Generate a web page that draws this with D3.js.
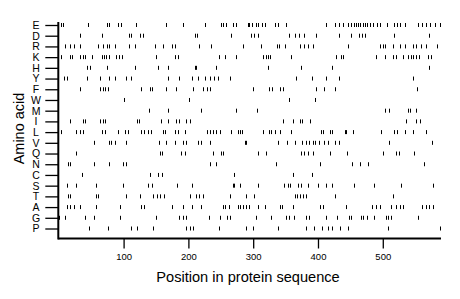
<!DOCTYPE html>
<html>
<head>
<meta charset="utf-8">
<script src="https://cdn.jsdelivr.net/npm/d3@7"></script>
<style>
  body { margin: 0; background: #fff; }
  text { font-family: "Liberation Sans", Arial, sans-serif; fill: #000; }
</style>
</head>
<body>
<script>
const width = 460;
const height = 299;

// amino acids, top to bottom
const acids = ["E","D","R","K","H","Y","F","W","M","I","L","V","Q","N","C","S","T","A","G","P"];
const xTicks = [100, 200, 300, 400, 500];
const seqLength = 590;

// positions of each residue in the sequence
const posE = [3,6,45,74,78,92,96,119,166,192,225,250,254,258,269,273,292,294,298,304,308,313,318,334,339,351,
  412,427,432,438,446,451,455,458,462,465,469,472,475,480,485,491,495,506,517,522,526,535,554,561,566,573,581,588];
const posD = [32,67,108,112,126,130,210,213,266,297,301,307,356,365,371,379,397,432,451,464,468,472,518,572];
const posR = [10,17,23,32,61,68,74,78,86,109,117,148,161,174,179,217,235,284,312,336,340,349,
  373,379,384,392,446,495,500,504,516,526,535,547,552,559,567,583];
const posK = [4,17,21,32,37,40,52,66,69,73,78,89,93,98,150,179,184,247,257,274,315,319,323,326,359,
  428,436,439,490,504,516,521,531,539,543,547,552,556,570,575];
const posH = [43,48,74,118,153,168,210,212,243,323,374,422,571];
const posY = [8,12,43,63,78,86,103,111,168,186,205,215,225,233,240,246,264,366,391,412,433,547];
const posF = [32,63,68,72,76,127,140,144,166,181,207,222,228,233,299,325,329,342,346,397,410,426,553];
const posW = [100,201,355,396];
const posM = [139,168,220,273,306,504,509,539,542,552];
const posI = [17,37,40,63,68,72,120,124,157,168,181,186,197,202,346,361,372,376,387,536,552,558];
const posL = [3,27,32,37,66,71,91,102,107,127,132,138,143,161,164,179,184,194,228,233,238,243,249,266,276,280,283,
  315,324,328,333,342,359,405,408,419,422,441,444,454,497,517,522,535,547,566];
const posV = [54,77,81,86,103,155,165,180,192,197,215,220,234,287,289,338,352,364,
  376,381,386,392,396,401,409,415,427,433,509,576];
const posQ = [27,156,160,189,194,238,251,254,307,320,374,379,385,392,418,445,501,521,525,548];
const posN = [14,18,55,78,99,103,234,243,335,403,453,465,477,563];
const posC = [36,140,153,160,271,361,390];
const posS = [12,27,58,99,138,144,182,206,269,271,280,307,348,353,357,369,374,385,400,413,422,456,487,528,577];
const posT = [14,17,57,60,104,125,145,151,156,163,202,212,217,222,264,289,302,364,368,372,377,382,427,515];
const posA = [12,17,23,32,58,94,127,132,174,192,206,220,253,257,262,277,280,284,289,294,307,318,341,345,361,
  403,408,444,484,490,495,513,521,526,531,561,566,572,577];
const posG = [1,10,40,55,95,150,185,191,196,232,249,259,264,304,328,351,356,363,
  381,386,413,429,448,451,467,469,475,486,505,508,513,554];
const posP = [46,76,111,120,146,197,202,207,247,289,300,338,382,394,406,416,421,434,447,508,588];

const positions = {E: posE, D: posD, R: posR, K: posK, H: posH, Y: posY, F: posF, W: posW, M: posM, I: posI,
  L: posL, V: posV, Q: posQ, N: posN, C: posC, S: posS, T: posT, A: posA, G: posG, P: posP};

const marks = [];
acids.forEach(a => positions[a].forEach(p => marks.push({acid: a, pos: p})));

const svg = d3.select("body").append("svg")
  .attr("width", width)
  .attr("height", height);

const x = d3.scaleLinear().domain([0, seqLength]).range([58.8, 441.1]);
const y = d3.scalePoint().domain(acids).range([25, 228.5]);

const plotLeft = 58.3, plotBottom = 238.5, plotTop = 22;

// residue marks
svg.append("g")
  .selectAll("line")
  .data(marks)
  .join("line")
  .attr("x1", d => Math.round(x(d.pos)) + 0.5)
  .attr("x2", d => Math.round(x(d.pos)) + 0.5)
  .attr("y1", d => y(d.acid) - 2)
  .attr("y2", d => y(d.acid) + 2)
  .attr("stroke", "#000")
  .attr("stroke-width", 1);

// y axis
const yAxis = svg.append("g")
  .attr("transform", `translate(${plotLeft},0)`)
  .call(d3.axisLeft(y).tickSize(13).tickPadding(8));
yAxis.select(".domain").remove();
yAxis.selectAll(".tick line").attr("stroke-width", 1.3);
yAxis.selectAll(".tick text")
  .attr("font-size", 10.5)
  .attr("text-anchor", "middle")
  .attr("x", -22.3);

// x axis
const xAxis = svg.append("g")
  .attr("transform", `translate(0,${plotBottom})`)
  .call(d3.axisBottom(x).tickValues(xTicks).tickSize(10).tickPadding(5));
xAxis.select(".domain").remove();
xAxis.selectAll(".tick line").attr("stroke-width", 1.3);
xAxis.selectAll(".tick text").attr("font-size", 9.5);

// frame lines
svg.append("line")
  .attr("x1", plotLeft).attr("x2", plotLeft).attr("y1", plotTop).attr("y2", plotBottom + 1)
  .attr("stroke", "#000").attr("stroke-width", 2);
svg.append("line")
  .attr("x1", plotLeft).attr("x2", 441).attr("y1", plotBottom).attr("y2", plotBottom)
  .attr("stroke", "#000").attr("stroke-width", 2);

// titles
svg.append("text")
  .attr("x", 248).attr("y", 282)
  .attr("text-anchor", "middle")
  .attr("font-size", 14.6)
  .text("Position in protein sequence");

svg.append("text")
  .attr("transform", "translate(23.5,128.5) rotate(-90)")
  .attr("text-anchor", "middle")
  .attr("font-size", 14.5)
  .text("Amino acid");
</script>
</body>
</html>
